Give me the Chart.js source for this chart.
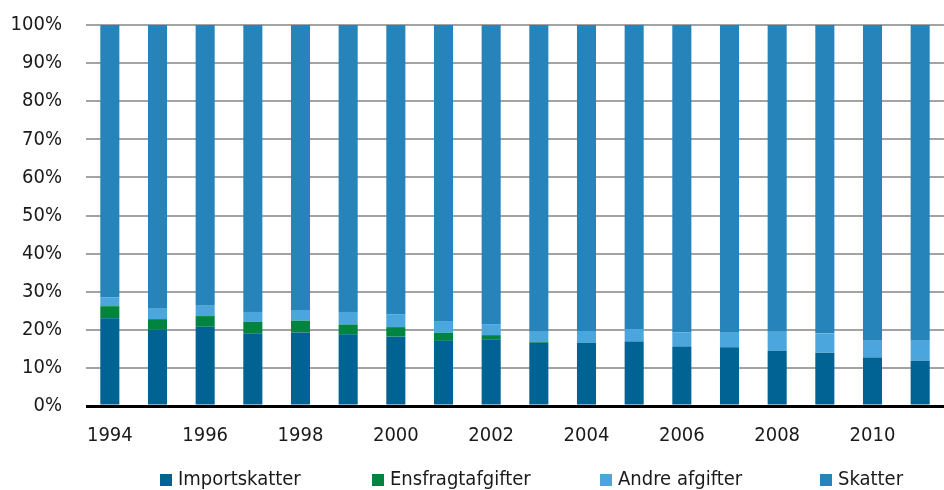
<!DOCTYPE html>
<html>
<head>
<meta charset="utf-8">
<script src="https://cdn.jsdelivr.net/npm/chart.js@4/dist/chart.umd.min.js"></script>
<style>
  html, body { margin: 0; padding: 0; background: #fff; }
  #wrap { position: relative; width: 944px; height: 490px; }
  #legend { position: absolute; left: 0; top: 466px; width: 944px; height: 24px;
            font-family: "DejaVu Sans Condensed", "Liberation Sans Narrow", sans-serif; font-size: 20px; color: #1a1a1a; }
  .li { position: absolute; top: 0; height: 24px; display: flex; align-items: center; white-space: nowrap; }
  .sw { width: 12px; height: 12px; margin-right: 6px; margin-top: 3px; }
</style>
</head>
<body>
<div id="wrap">
  <canvas id="c" width="944" height="490"></canvas>
  <div id="legend"></div>
</div>
<script>
const years = ["1994","1995","1996","1997","1998","1999","2000","2001","2002","2003","2004","2005","2006","2007","2008","2009","2010","2011"];
const seriesNames = ["Importskatter", "Ensfragtafgifter", "Andre afgifter", "Skatter"];
const importskatter = [23.0,20.0,20.8,19.1,19.3,18.8,18.2,17.1,17.5,16.6,16.6,16.9,15.6,15.4,14.5,14.0,12.7,11.9];
const ensfragtafgifter = [3.2,2.8,2.8,3.0,3.1,2.6,2.5,2.1,1.1,0.3,0,0,0,0,0,0,0,0];
const andreAfgifter = [2.3,2.7,2.7,2.6,2.8,3.3,3.4,3.1,2.9,2.6,3.1,3.3,3.7,3.8,5.0,5.0,4.4,5.2];
const skatter = [71.5,74.5,73.7,75.3,74.8,75.3,75.9,77.7,78.5,80.5,80.3,79.8,80.7,80.8,80.5,81.0,82.9,82.9];
const yTicks = [0,10,20,30,40,50,60,70,80,90,100];

const colors = ["#006394", "#00843f", "#4ba6dd", "#2784bb"];
const FONT = '"DejaVu Sans Condensed", "Liberation Sans Narrow", sans-serif';
const legendLeft = [160, 372, 600, 820];

const htmlLegend = {
  id: 'htmlLegend',
  afterUpdate(chart) {
    const box = document.getElementById('legend');
    box.innerHTML = '';
    chart.data.datasets.forEach((ds, i) => {
      const item = document.createElement('div');
      item.className = 'li';
      item.style.left = legendLeft[i] + 'px';
      const sw = document.createElement('span');
      sw.className = 'sw';
      sw.style.background = ds.backgroundColor;
      const tx = document.createElement('span');
      tx.textContent = ds.label;
      item.appendChild(sw);
      item.appendChild(tx);
      box.appendChild(item);
    });
  }
};

new Chart(document.getElementById('c'), {
  type: 'bar',
  data: {
    labels: years,
    datasets: [
      { label: seriesNames[0], data: importskatter, backgroundColor: colors[0] },
      { label: seriesNames[1], data: ensfragtafgifter, backgroundColor: colors[1] },
      { label: seriesNames[2], data: andreAfgifter, backgroundColor: colors[2] },
      { label: seriesNames[3], data: skatter, backgroundColor: colors[3] }
    ]
  },
  options: {
    responsive: false,
    animation: false,
    devicePixelRatio: 1,
    layout: { padding: { left: 10, right: 0, top: 25, bottom: 24 } },
    datasets: { bar: { categoryPercentage: 1.0, barPercentage: 0.4, borderWidth: 0 } },
    plugins: {
      legend: { display: false },
      tooltip: { enabled: false }
    },
    scales: {
      x: {
        stacked: true,
        grid: { display: false, drawTicks: false },
        border: { display: false },
        ticks: {
          autoSkip: false,
          maxRotation: 0,
          padding: 18,
          color: '#1a1a1a',
          font: { family: FONT, size: 20 },
          callback: function(v, i) { return i % 2 === 0 ? years[i] : ''; }
        }
      },
      y: {
        stacked: true,
        min: 0,
        max: 100,
        afterFit(scale) { scale.width = 76; scale.paddingTop = 0; scale.paddingBottom = 0; },
        afterBuildTicks(scale) { scale.ticks = yTicks.map(v => ({ value: v })); },
        grid: {
          drawTicks: false,
          color: ctx => ctx.tick && ctx.tick.value === 0 ? '#000000' : '#a3a3a3',
          lineWidth: ctx => ctx.tick && ctx.tick.value === 0 ? 3 : 2
        },
        border: { display: false },
        ticks: {
          padding: 24,
          color: '#1a1a1a',
          font: { family: FONT, size: 20 },
          callback: v => v + '%'
        }
      }
    }
  },
  plugins: [htmlLegend]
});
</script>
</body>
</html>
